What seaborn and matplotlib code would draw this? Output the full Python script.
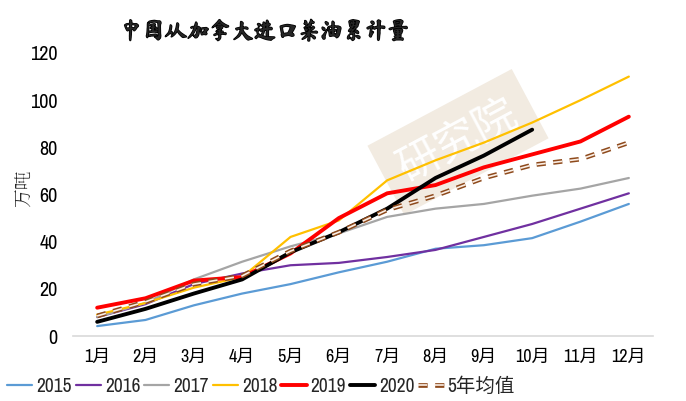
import numpy as np
import pandas as pd
import matplotlib
matplotlib.use("Agg")
import matplotlib.pyplot as plt
import matplotlib.patheffects as pe
import seaborn as sns

months = ["1月", "2月", "3月", "4月", "5月", "6月", "7月", "8月", "9月", "10月", "11月", "12月"]
y2015 = [4.2, 6.8, 13.0, 18.0, 22.0, 27.0, 31.5, 37.0, 38.5, 41.5, 48.5, 56.0]
y2016 = [8.0, 13.5, 22.0, 26.5, 30.0, 31.0, 33.5, 36.5, 42.0, 47.5, 54.0, 60.5]
y2017 = [8.0, 14.0, 24.0, 31.5, 38.0, 43.5, 50.5, 54.0, 56.0, 59.5, 62.5, 67.0]
y2018 = [9.0, 14.0, 20.5, 25.0, 42.0, 49.0, 66.0, 74.5, 82.0, 90.5, 100.0, 110.0]
y2019 = [12.0, 16.0, 23.5, 25.0, 35.0, 50.0, 60.5, 64.0, 71.5, 77.0, 82.5, 93.0]
y2020 = [6.0, 11.5, 18.0, 24.0, 35.5, 44.0, 54.0, 67.0, 76.5, 87.5]
avg5 = [8.5, 14.5, 22.0, 25.5, 36.0, 44.0, 53.5, 59.5, 67.0, 72.5, 75.0, 82.0]
yticks = [0, 20, 40, 60, 80, 100, 120]

num_font = ["Archivo Narrow", "Noto Sans CJK SC", "DejaVu Sans"]
cjk_font = ["Noto Sans CJK SC", "DejaVu Sans"]
title_font = ["Ma Shan Zheng", "Noto Sans CJK SC"]
ylab_font = ["Noto Serif SC", "Noto Sans CJK SC"]

sns.set_theme(style="white")
plt.rcParams["font.family"] = num_font

fig = plt.figure(figsize=(6.86, 4.01), dpi=100)
ax = fig.add_axes([73 / 686, 1 - 336 / 401, 580 / 686, 283 / 401])

series = [
    ("2015", y2015, "#5B9BD5", 1.6),
    ("2016", y2016, "#7030A0", 1.6),
    ("2017", y2017, "#A5A5A5", 1.6),
    ("2018", y2018, "#FFC000", 1.6),
    ("2019", y2019, "#FF0000", 2.8),
    ("2020", y2020, "#000000", 2.8),
]
for name, vals, color, lw in series:
    df = pd.DataFrame({"m": np.arange(len(vals)), "v": vals})
    sns.lineplot(data=df, x="m", y="v", ax=ax, color=color, linewidth=lw,
                 label=name, legend=False, zorder=3)

# five-year average: hollow brown dashes
df_avg = pd.DataFrame({"m": np.arange(len(avg5)), "v": avg5})
sns.lineplot(data=df_avg, x="m", y="v", ax=ax, color="#FBEFE6", linewidth=1.2,
             label="5年均值", legend=False, zorder=4)
avg_line = ax.get_lines()[-1]
avg_line.set_dashes([5.5, 4.5])
avg_line.set_path_effects([pe.Stroke(linewidth=3.4, foreground="#8E4A1C"), pe.Normal()])

ax.set_xlim(-0.5, 11.5)
ax.set_ylim(0, 120)
ax.set_xticks(np.arange(len(months)))
ax.set_xticklabels(months, fontsize=13, family=num_font)
ax.set_yticks(yticks)
ax.set_yticklabels([str(t) for t in yticks], fontsize=14.5, family=num_font)
ax.tick_params(axis="x", length=0, pad=9, colors="#000000")
ax.tick_params(axis="y", length=0, pad=11, colors="#000000")
ax.set_xlabel("")
ax.set_ylabel("")
for s in ["top", "right", "left"]:
    ax.spines[s].set_visible(False)
ax.spines["bottom"].set_color("#D9D9D9")
ax.spines["bottom"].set_linewidth(1.2)
ax.grid(False)

# watermark behind the lines
ax.text(458 / 686, 1 - 142 / 401, "研究院", transform=fig.transFigure, rotation=28,
        fontsize=31, color="white", family=cjk_font, ha="center", va="center", zorder=0,
        bbox=dict(boxstyle="square,pad=0.4", fc="#F2EBE1", ec="none"))

fig.text(265 / 686, 1 - 31 / 401, "中国从加拿大进口菜油累计量", fontsize=16,
         family=title_font, ha="center", va="center",
         path_effects=[pe.withStroke(linewidth=1.1, foreground="black")])
fig.text(24 / 686, 1 - 188 / 401, "万吨", rotation=90, fontsize=13.5,
         family=ylab_font, ha="center", va="center")

handles, labels = ax.get_legend_handles_labels()
fig.legend(handles, labels, loc="center", bbox_to_anchor=(261 / 686, 1 - 386 / 401),
           ncol=7, frameon=False, handlelength=1.3, handletextpad=0.2,
           columnspacing=0.2, prop={"family": num_font, "size": 14})

fig.savefig("out.png", dpi=100)
